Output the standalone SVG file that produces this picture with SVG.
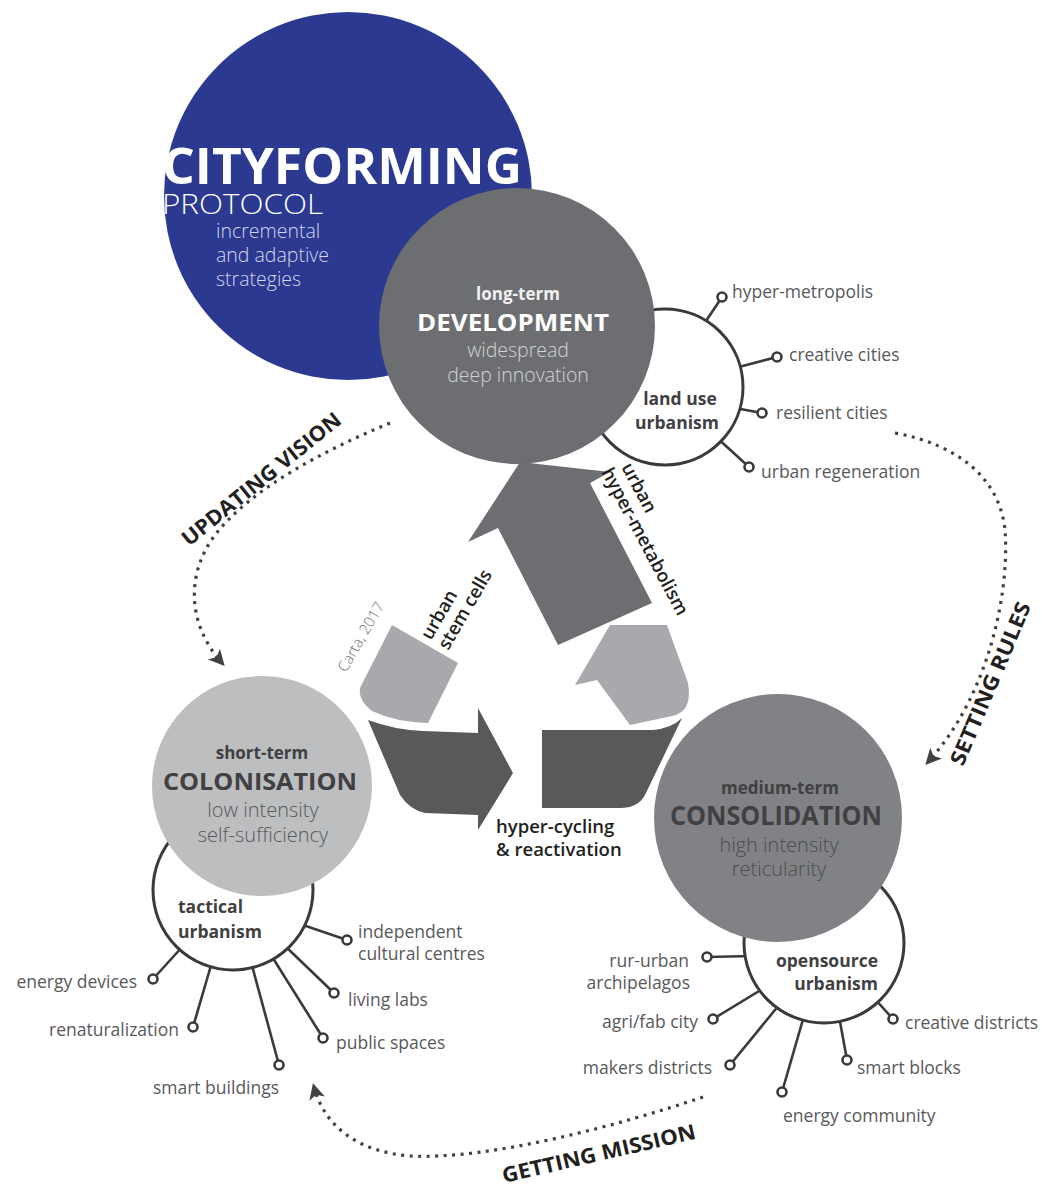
<svg xmlns="http://www.w3.org/2000/svg" width="1042" height="1190" viewBox="0 0 1042 1190">
<style>
text{font-family:"Open Sans","Liberation Sans",sans-serif}
.lbl{font-size:17.5px;fill:#58595b}
.b{font-weight:700;fill:#414042}
.sat{fill:#fff;stroke:#3a3a3c;stroke-width:3}
.sp{stroke:#3a3a3c;stroke-width:2.6;fill:none}
.kn{fill:#fff;stroke:#3a3a3c;stroke-width:2.6}
.dot{fill:none;stroke:#414042;stroke-width:3.2;stroke-dasharray:3 5.5}
.ttl{font-size:21px;font-weight:700;fill:#231f20}
.rec{font-size:18.5px;font-weight:600;fill:#231f20}
</style>
<defs>
<marker id="ah" viewBox="0 0 12 12" refX="9" refY="6" markerWidth="16" markerHeight="16" markerUnits="userSpaceOnUse" orient="auto">
<path d="M0,0 L12,6 L0,12 L3,6 Z" fill="#414042"/>
</marker>
</defs>

<g id="protocol">
<circle cx="348" cy="196" r="184" fill="#2b3990"/>
<text x="162" y="184" font-size="50" font-weight="700" fill="#fff" textLength="360" lengthAdjust="spacingAndGlyphs">CITYFORMING</text>
<text x="162" y="214" font-size="27" font-weight="300" fill="#fff" textLength="161" lengthAdjust="spacingAndGlyphs">PROTOCOL</text>
<text font-size="19.5" font-weight="300" fill="#d2d5ee"><tspan x="216" y="238">incremental</tspan><tspan x="216" y="262">and adaptive</tspan><tspan x="216" y="286">strategies</tspan></text>
</g>

<g id="landuse">
<line class="sp" x1="700" y1="330" x2="722" y2="297"/>
<line class="sp" x1="735" y1="368" x2="777" y2="357"/>
<line class="sp" x1="735" y1="408" x2="762" y2="413"/>
<line class="sp" x1="715" y1="436" x2="749" y2="467"/>
<circle class="sat" cx="665" cy="387" r="78"/>
<circle class="kn" cx="722" cy="297" r="4.5"/>
<circle class="kn" cx="777" cy="357" r="4.5"/>
<circle class="kn" cx="762" cy="413" r="4.5"/>
<circle class="kn" cx="749" cy="467" r="4.5"/>
<text class="lbl b" text-anchor="middle"><tspan x="680" y="405">land use</tspan><tspan x="677" y="429">urbanism</tspan></text>
<text class="lbl" x="732" y="298">hyper-metropolis</text>
<text class="lbl" x="789" y="361">creative cities</text>
<text class="lbl" x="776" y="419">resilient cities</text>
<text class="lbl" x="761" y="478">urban regeneration</text>
</g>

<g id="development">
<circle cx="517" cy="326" r="138" fill="#6d6e71"/>
<text x="518" y="300" text-anchor="middle" font-size="17" font-weight="700" fill="#f1f1f2">long-term</text>
<text x="513" y="331" text-anchor="middle" font-size="23" font-weight="700" fill="#fff" textLength="192" lengthAdjust="spacingAndGlyphs">DEVELOPMENT</text>
<text text-anchor="middle" font-size="19.5" font-weight="300" fill="#d1d3d4"><tspan x="518" y="357">widespread</tspan><tspan x="518" y="382">deep innovation</tspan></text>
</g>

<g id="tactical">
<line class="sp" x1="300" y1="924" x2="347" y2="940"/>
<line class="sp" x1="284" y1="945" x2="334" y2="993"/>
<line class="sp" x1="271" y1="955" x2="323" y2="1038"/>
<line class="sp" x1="251" y1="962" x2="279" y2="1065"/>
<line class="sp" x1="212" y1="962" x2="193" y2="1027"/>
<line class="sp" x1="183" y1="946" x2="153" y2="979"/>
<circle class="sat" cx="233" cy="890" r="80"/>
<circle class="kn" cx="347" cy="940" r="4.5"/>
<circle class="kn" cx="334" cy="993" r="4.5"/>
<circle class="kn" cx="323" cy="1038" r="4.5"/>
<circle class="kn" cx="279" cy="1065" r="4.5"/>
<circle class="kn" cx="193" cy="1027" r="4.5"/>
<circle class="kn" cx="153" cy="979" r="4.5"/>
<text class="lbl b"><tspan x="178" y="913">tactical</tspan><tspan x="178" y="938">urbanism</tspan></text>
<text class="lbl"><tspan x="358" y="938">independent</tspan><tspan x="358" y="960">cultural centres</tspan></text>
<text class="lbl" x="348" y="1006">living labs</text>
<text class="lbl" x="336" y="1049">public spaces</text>
<text class="lbl" x="216" y="1094" text-anchor="middle">smart buildings</text>
<text class="lbl" x="179" y="1036" text-anchor="end">renaturalization</text>
<text class="lbl" x="137" y="988" text-anchor="end">energy devices</text>
</g>

<g id="colonisation">
<circle cx="262" cy="786" r="110" fill="#bcbec0"/>
<text x="262" y="759" text-anchor="middle" font-size="17" font-weight="700" fill="#414042">short-term</text>
<text x="260" y="790" text-anchor="middle" font-size="24" font-weight="700" fill="#414042" textLength="194" lengthAdjust="spacingAndGlyphs">COLONISATION</text>
<text text-anchor="middle" font-size="20" font-weight="300" fill="#58595b"><tspan x="263" y="817">low intensity</tspan><tspan x="263" y="842">self-sufficiency</tspan></text>
</g>

<g id="opensource">
<line class="sp" x1="752" y1="956" x2="707" y2="957"/>
<line class="sp" x1="764" y1="988" x2="713" y2="1019"/>
<line class="sp" x1="779" y1="1005" x2="730" y2="1065"/>
<line class="sp" x1="804" y1="1016" x2="782" y2="1092"/>
<line class="sp" x1="839" y1="1016" x2="847" y2="1060"/>
<line class="sp" x1="874" y1="998" x2="893" y2="1019"/>
<circle class="sat" cx="824" cy="943" r="80"/>
<circle class="kn" cx="707" cy="957" r="4.5"/>
<circle class="kn" cx="713" cy="1019" r="4.5"/>
<circle class="kn" cx="730" cy="1065" r="4.5"/>
<circle class="kn" cx="782" cy="1092" r="4.5"/>
<circle class="kn" cx="847" cy="1060" r="4.5"/>
<circle class="kn" cx="893" cy="1019" r="4.5"/>
<text class="lbl b" text-anchor="end"><tspan x="878" y="967">opensource</tspan><tspan x="878" y="990">urbanism</tspan></text>
<text class="lbl" text-anchor="end"><tspan x="689" y="967">rur-urban</tspan><tspan x="690" y="989">archipelagos</tspan></text>
<text class="lbl" x="698" y="1028" text-anchor="end">agri/fab city</text>
<text class="lbl" x="712" y="1074" text-anchor="end">makers districts</text>
<text class="lbl" x="783" y="1122">energy community</text>
<text class="lbl" x="857" y="1074">smart blocks</text>
<text class="lbl" x="905" y="1029">creative districts</text>
</g>

<g id="consolidation">
<circle cx="778" cy="818" r="124" fill="#808285"/>
<text x="780" y="794" text-anchor="middle" font-size="17" font-weight="700" fill="#414042">medium-term</text>
<text x="776" y="825" text-anchor="middle" font-size="26" font-weight="700" fill="#414042" textLength="212" lengthAdjust="spacingAndGlyphs">CONSOLIDATION</text>
<text text-anchor="middle" font-size="20" font-weight="300" fill="#4d4e50"><tspan x="779" y="852">high intensity</tspan><tspan x="779" y="876">reticularity</tspan></text>
</g>

<g id="recycle">
<path d="M520,462 L610,472 L590,483 L652,603 L558,645 L498,528 L468,542 Z" fill="#6d6e71"/>
<path d="M610,625 L667,625 L688,683 Q693,712 672,716 L630,725 L597,680 L575,685 Z" fill="#a7a9ac"/>
<path d="M542,730 L653,730 Q672,728 682,718 L645,795 Q638,808 620,808 L542,808 Z" fill="#58595b"/>
<path d="M392,625 L458,663 L428,723 Q395,722 372,711 Q358,700 360,688 Z" fill="#a7a9ac"/>
<path d="M368,720 Q395,730 423,731 L478,733 L478,708 L513,773 L478,830 L478,815 L425,813 Q410,810 400,795 Z" fill="#58595b"/>
<text class="rec" transform="translate(621,467) rotate(62)"><tspan x="0" y="0">urban</tspan><tspan x="-5" y="20" textLength="164" lengthAdjust="spacingAndGlyphs">hyper-metabolism</tspan></text>
<text class="rec" transform="translate(431,641) rotate(-60)"><tspan x="0" y="0">urban</tspan><tspan x="0" y="20">stem cells</tspan></text>
<text transform="translate(346,673) rotate(-60)" font-size="15" font-weight="300" fill="#6d6e71">Carta, 2017</text>
<text class="rec"><tspan x="496" y="833">hyper-cycling</tspan><tspan x="496" y="856">&amp; reactivation</tspan></text>
</g>

<g id="connectors">
<path class="dot" d="M390,423 C320,452 250,490 215,535 C185,575 188,625 222,663" marker-end="url(#ah)"/>
<path class="dot" d="M895,433 C960,445 1000,480 1005,530 C1010,600 985,700 928,762" marker-end="url(#ah)"/>
<path class="dot" d="M703,1097 C620,1125 490,1160 410,1156 C360,1152 325,1128 314,1087" marker-end="url(#ah)"/>
<text class="ttl" transform="translate(189,547) rotate(-39)" textLength="198" lengthAdjust="spacingAndGlyphs">UPDATING VISION</text>
<text class="ttl" transform="translate(963,767) rotate(-67)" textLength="175" lengthAdjust="spacingAndGlyphs">SETTING RULES</text>
<text class="ttl" transform="translate(504,1183) rotate(-13)" textLength="198" lengthAdjust="spacingAndGlyphs">GETTING MISSION</text>
</g>
</svg>
